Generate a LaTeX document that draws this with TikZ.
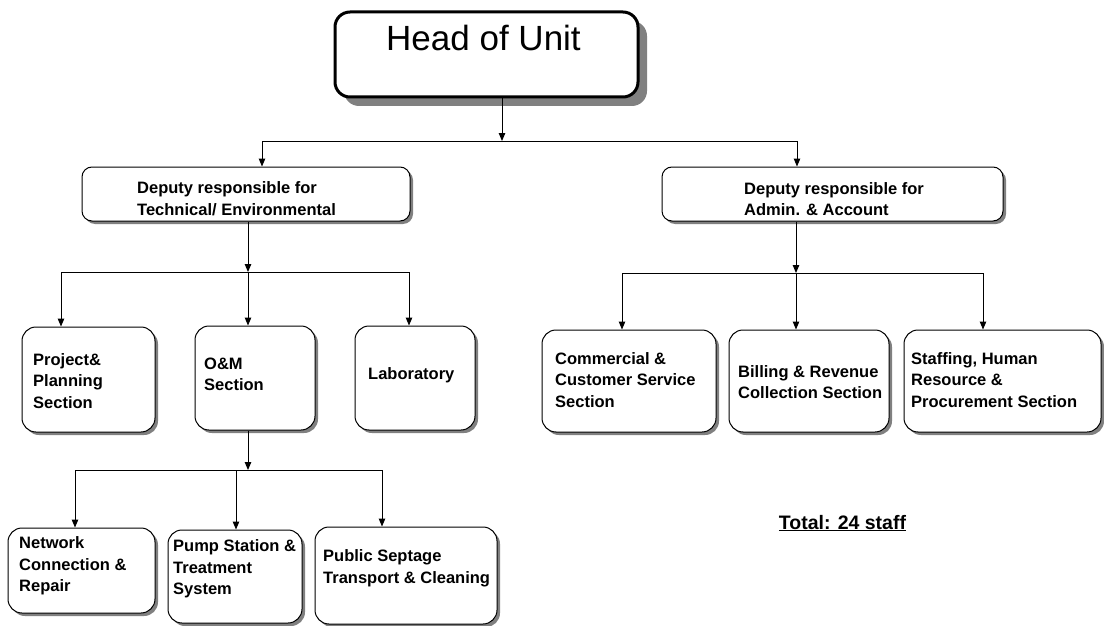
\documentclass[tikz,border=0pt]{standalone}
\usepackage{fontspec}
\setmainfont{Liberation Sans}
\usetikzlibrary{arrows.meta,shadows}

\begin{document}
\begin{tikzpicture}[x=1pt, y=-1pt,
    box/.style={draw, line width=1pt, rounded corners=14pt, fill=white,
      drop shadow={shadow xshift=3pt, shadow yshift=-3pt, fill=black!50, opacity=1}},
    lbl/.style={anchor=west, align=left, inner sep=0pt,
      font=\fontsize{16.5}{21.5}\selectfont\bfseries},
    link/.style={line width=1pt, -{Triangle[length=8pt, width=6.5pt]}},
    bar/.style={line width=1pt}]
    \useasboundingbox (0,0) rectangle (1104,626);

    % head
    \node[box, line width=3pt, rounded corners=15pt, minimum width=303pt, minimum height=85pt,
      drop shadow={shadow xshift=9pt, shadow yshift=-9pt, fill=black!50, opacity=1}]
      (head) at (486.5,54.5) {};
    \node[inner sep=0pt, font=\fontsize{35}{40}\selectfont] (headtext) at (483.5,38) {Head of Unit};

    % deputies
    \node[box, rounded corners=10pt, minimum width=328pt, minimum height=54pt] (dep1) at (246,194) {};
    \node[lbl] (dep1text) at (137,198.5) {Deputy responsible for\\Technical/ Environmental};
    \node[box, rounded corners=10pt, minimum width=341pt, minimum height=54pt] (dep2) at (832.5,194) {};
    \node[lbl] (dep2text) at (744,199) {Deputy responsible for\\Admin. \& Account};

    % technical sections
    \node[box, minimum width=133pt, minimum height=105pt] (proj) at (88.5,379.5) {};
    \node[lbl] (projtext) at (33,381) {Project\&\\Planning\\Section};
    \node[box, minimum width=120pt, minimum height=104pt] (om) at (255,378) {};
    \node[lbl] (omtext) at (204,374.5) {O\&M\\Section};
    \node[box, minimum width=120pt, minimum height=104pt] (lab) at (415,378) {};
    \node[lbl] (labtext) at (368,375) {Laboratory};

    % admin sections
    \node[box, minimum width=174pt, minimum height=102pt] (comm) at (629,381) {};
    \node[lbl] (commtext) at (555,380) {Commercial \&\\Customer Service\\Section};
    \node[box, minimum width=160pt, minimum height=102pt] (bill) at (809,381) {};
    \node[lbl] (billtext) at (738,382) {Billing \& Revenue\\Collection Section};
    \node[box, minimum width=197pt, minimum height=102pt] (staff) at (1002.5,381) {};
    \node[lbl] (stafftext) at (911,380) {Staffing, Human\\Resource \&\\Procurement Section};

    % O&M units
    \node[box, minimum width=147pt, minimum height=85pt] (net) at (81.5,570.5) {};
    \node[lbl] (nettext) at (19,566) {Network\\Connection \&\\Repair};
    \node[box, minimum width=134pt, minimum height=93pt] (pump) at (235,576.5) {};
    \node[lbl] (pumptext) at (173,569) {Pump Station \&\\Treatment\\System};
    \node[box, minimum width=182pt, minimum height=97pt] (pub) at (406,575.5) {};
    \node[lbl] (pubtext) at (323,568.5) {Public Septage\\Transport \& Cleaning};

    \node[anchor=base, inner sep=0pt, font=\fontsize{19.5}{22}\selectfont\bfseries]
      (total) at (842.5,529) {\underline{Total: 24 staff}};

    % head -> deputies
    \coordinate (hub0) at (502,141);
    \coordinate (hubL) at (262,141);
    \coordinate (hubR) at (797,141);
    \draw[link] (head.south -| hub0) -- (hub0);
    \draw[bar] (hubL) -- (hubR);
    \draw[link] (hubL) -- (hubL |- dep1.north);
    \draw[link] (hubR) -- (hubR |- dep2.north);

    % technical branch
    \coordinate (tech0) at (248,272);
    \coordinate (tech1) at (61,272);
    \coordinate (tech2) at (248,272);
    \coordinate (tech3) at (409,272);
    \draw[link] (dep1.south -| tech0) -- (tech0);
    \draw[bar] (tech1) -- (tech3);
    \draw[link] (tech1) -- (tech1 |- proj.north);
    \draw[link] (tech2) -- (tech2 |- om.north);
    \draw[link] (tech3) -- (tech3 |- lab.north);

    % admin branch
    \coordinate (adm0) at (796,273);
    \coordinate (adm1) at (622,273);
    \coordinate (adm2) at (796,273);
    \coordinate (adm3) at (983,273);
    \draw[link] (dep2.south -| adm0) -- (adm0);
    \draw[bar] (adm1) -- (adm3);
    \draw[link] (adm1) -- (adm1 |- comm.north);
    \draw[link] (adm2) -- (adm2 |- bill.north);
    \draw[link] (adm3) -- (adm3 |- staff.north);

    % O&M branch
    \coordinate (om0) at (248,470);
    \coordinate (om1) at (75,470);
    \coordinate (om2) at (236,470);
    \coordinate (om3) at (382,470);
    \draw[link] (om.south -| om0) -- (om0);
    \draw[bar] (om1) -- (om3);
    \draw[link] (om1) -- (om1 |- net.north);
    \draw[link] (om2) -- (om2 |- pump.north);
    \draw[link] (om3) -- (om3 |- pub.north);
\end{tikzpicture}
\end{document}
